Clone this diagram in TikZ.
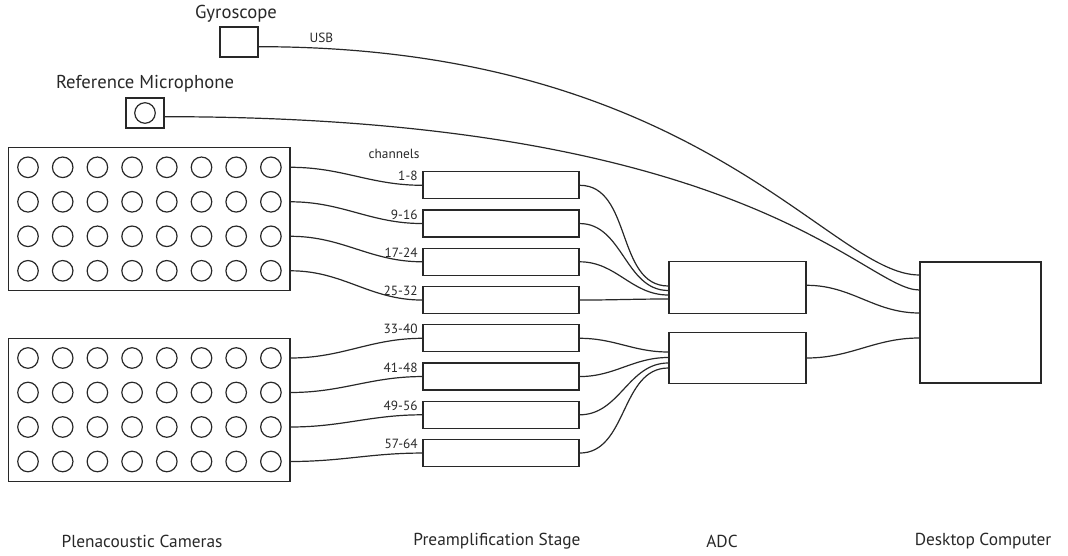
\documentclass[tikz,border=0pt]{standalone}
\usepackage{fontspec}
\setmainfont{PT Sans}
\usetikzlibrary{calc}
\definecolor{ink}{RGB}{40,40,40}
\begin{document}
\begin{tikzpicture}[x=0.75pt,y=-0.75pt,
  wire/.style={draw=ink, line width=0.9pt},
  unit/.style={draw=ink, line width=1pt, fill=white, inner sep=0pt, rectangle},
  capsule/.style={circle, draw=ink, line width=0.9pt, minimum size=15.4pt, inner sep=0pt},
  title/.style={font=\fontsize{14}{16}\selectfont, text=ink, inner sep=0pt},
  stage/.style={font=\fontsize{13}{15}\selectfont, text=ink, inner sep=0pt},
  tag/.style={font=\fontsize{10}{12}\selectfont, text=ink, inner sep=0pt}]
\useasboundingbox (0,0) rectangle (1068,556);

% microphone arrays (8 x 4 capsules each)
\node[unit, minimum width=211.1pt, minimum height=107.25pt] (cam1) at (149.25,219) {};
\node[unit, minimum width=211.1pt, minimum height=107.25pt] (cam2) at (149.25,409.7) {};
\foreach \r in {1,...,4}{
  \foreach \c in {1,...,8}{
    \node[capsule] (a-\r-\c) at ({28+34.7*(\c-1)},{167.3+34.5*(\r-1)}) {};
    \node[capsule] (b-\r-\c) at ({28+34.7*(\c-1)},{358+34.5*(\r-1)}) {};
  }
  \coordinate (ao\r) at (cam1.east |- a-\r-8);
  \coordinate (bo\r) at (cam2.east |- b-\r-8);
}

% gyroscope and reference microphone
\node[unit, minimum width=28.5pt, minimum height=22.5pt] (gyro) at (239,42) {};
\node[title] (gyrolabel) at (236,14) {Gyroscope};
\node[tag] (usb) at (321.5,38) {USB};
\node[unit, minimum width=28.5pt, minimum height=22.5pt] (refmic) at (145,113) {};
\node[capsule] (refcap) at (refmic.center) {};
\node[title] (refmiclabel) at (145,84) {Reference Microphone};
\coordinate (gyroout) at ($(gyro.east)+(0,4.7)$);
\coordinate (micout) at ($(refmic.east)+(0,3.7)$);

% preamplifiers
\node[tag] (chan) at (394,154) {channels};
\foreach \i/\lab in {1/1-8,2/9-16,3/17-24,4/25-32,5/33-40,6/41-48,7/49-56,8/57-64}{
  \node[unit, minimum width=117pt, minimum height=20.25pt] (pre\i) at (501,{185.3+38.25*(\i-1)}) {};
  \node[tag, anchor=base east] (lab\i) at ($(pre\i.west)+(-4.5,-4.5)$) {\lab};
}

% converters and computer
\node[unit, minimum width=102.75pt, minimum height=38.6pt] (adc1) at (737.5,287.5) {};
\node[unit, minimum width=102.75pt, minimum height=38.6pt] (adc2) at (737.5,358) {};
\node[unit, minimum width=90.75pt, minimum height=90.75pt] (pc) at (980.5,322.5) {};

\foreach \i/\o in {1/-1.5,2/3,3/7.5,4/11.5}{
  \coordinate (ain\i) at ($(adc1.west)+(0,\o)$);
}
\foreach \i/\o in {5/-6,6/-0.5,7/5,8/10}{
  \coordinate (ain\i) at ($(adc2.west)+(0,\o)$);
}
\coordinate (aout1) at ($(adc1.east)+(0,-2.2)$);
\coordinate (aout2) at (adc2.east);
\foreach \i/\o in {1/-47.5,2/-32.5,3/-9.5,4/15.5}{
  \coordinate (pin\i) at ($(pc.west)+(0,\o)$);
}

% cabling
\foreach \r in {1,...,4}{
  \draw[wire] (ao\r) to[out=0,in=180] (pre\r.west);
}
\foreach \r/\p in {1/5,2/6,3/7,4/8}{
  \draw[wire] (bo\r) to[out=0,in=180] (pre\p.west);
}
\foreach \i in {1,...,8}{
  \draw[wire] (pre\i.east) to[out=0,in=180] (ain\i);
}
\draw[wire] (aout1) to[out=0,in=180] (pin3);
\draw[wire] (aout2) to[out=0,in=180] (pin4);
\draw[wire] (gyroout) .. controls ($(gyroout)+(442,0)$) and ($(pin1)+(-90,0)$) .. (pin1);
\draw[wire] (micout) .. controls ($(micout)+(586,0)$) and ($(pin2)+(-55,0)$) .. (pin2);

% stage captions
\node[stage] (cap1) at (142,541) {Plenacoustic Cameras};
\node[stage] (cap2) at (497,541) {Preamplification Stage};
\node[stage] (cap3) at (722,541) {ADC};
\node[stage] (cap4) at (983,541) {Desktop Computer};
\end{tikzpicture}
\end{document}
